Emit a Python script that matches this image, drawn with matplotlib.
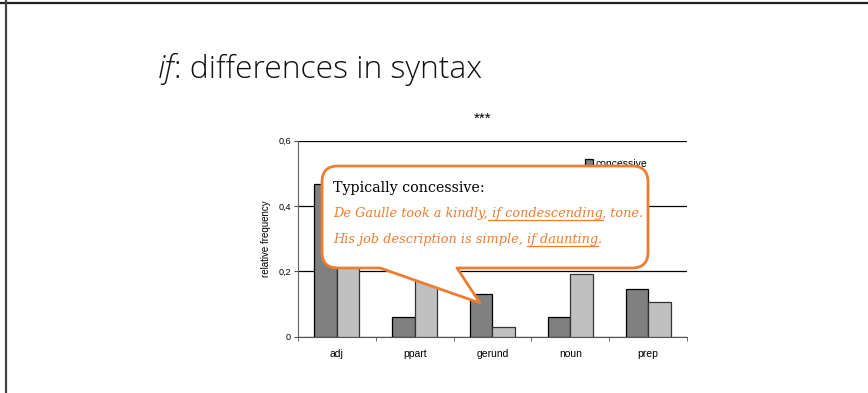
import numpy as np
import matplotlib
matplotlib.use("Agg")
import matplotlib.pyplot as plt
from matplotlib.path import Path
from matplotlib.patches import PathPatch
from matplotlib.lines import Line2D

categories = ["adj", "ppart", "gerund", "noun", "prep"]
concessive = [0.466, 0.059, 0.130, 0.059, 0.147]
conditional = [0.25, 0.19, 0.030, 0.193, 0.106]
series_names = ["concessive", "conditional"]
yticks = [0, 0.2, 0.4, 0.6]
ytick_labels = ["0", "0,2", "0,4", "0,6"]

ORANGE = "#ED7D31"
W, H = 868, 393

fig = plt.figure(figsize=(W / 100, H / 100), dpi=100)
fig.patch.set_facecolor("white")

# slide frame lines (top and left)
fig.add_artist(Line2D([0, 1], [1 - 2.5 / H] * 2, color="#222222", lw=1.6))
fig.add_artist(Line2D([5.5 / W] * 2, [0, 1], color="#444444", lw=1.6))

# chart
ax = fig.add_axes([298 / W, 1 - 336.7 / H, 389 / W, 196 / H])
x = np.arange(len(categories))
bw = 0.29
ax.bar(x - bw / 2, concessive, bw, color="#808080", edgecolor="black",
       lw=0.9, label=series_names[0], zorder=3)
ax.bar(x + bw / 2, conditional, bw, color="#C0C0C0", edgecolor="#333333",
       lw=0.9, label=series_names[1], zorder=3)
ax.set_xlim(-0.5, len(categories) - 0.5)
ax.set_ylim(0, 0.6)
ax.set_yticks(yticks)
ax.set_yticklabels(ytick_labels, family="Liberation Sans", fontsize=6.5)
ax.yaxis.grid(True, color="black", lw=0.9, zorder=0)
ax.set_xticks(x)
ax.set_xticklabels(categories, family="Liberation Sans", fontsize=7.5)
ax.set_xticks(np.arange(len(categories) + 1) - 0.5, minor=True)
ax.tick_params(axis="x", which="major", length=0, pad=9)
ax.tick_params(axis="x", which="minor", length=3, color="#555555")
ax.tick_params(axis="y", length=3, color="#555555", pad=2)
for s in ["top", "right"]:
    ax.spines[s].set_visible(False)
ax.spines["left"].set_color("#666666")
ax.spines["bottom"].set_color("#555555")
ax.set_ylabel("relative frequency", family="Liberation Sans", fontsize=7,
              labelpad=5)
ax.legend(loc="upper left", bbox_to_anchor=(0.725, 0.935), frameon=False,
          prop={"family": "Liberation Sans", "size": 7.5},
          handlelength=0.7, handleheight=0.7, handletextpad=0.3,
          labelspacing=0.3, borderpad=0)

# overlay in pixel coordinates for slide title and callout
ov = fig.add_axes([0, 0, 1, 1], zorder=10)
ov.set_xlim(0, W)
ov.set_ylim(H, 0)
ov.axis("off")
ov.patch.set_alpha(0)

ov.text(483, 119, "***", family="Liberation Sans", fontsize=11,
        ha="center", va="center")

x0, x1, y0, y1, r = 322, 648, 166, 268, 16
tail = [(457, y1), (480, 303), (380, y1)]
verts = [(x0 + r, y0), (x1 - r, y0), (x1, y0), (x1, y0 + r),
         (x1, y1 - r), (x1, y1), (x1 - r, y1)]
codes = [Path.MOVETO, Path.LINETO, Path.CURVE3, Path.CURVE3,
         Path.LINETO, Path.CURVE3, Path.CURVE3]
verts += tail
codes += [Path.LINETO] * 3
verts += [(x0 + r, y1), (x0, y1), (x0, y1 - r), (x0, y0 + r), (x0, y0),
          (x0 + r, y0), (x0 + r, y0)]
codes += [Path.LINETO, Path.CURVE3, Path.CURVE3, Path.LINETO, Path.CURVE3,
          Path.CURVE3, Path.CLOSEPOLY]
ov.add_patch(PathPatch(Path(verts, codes), facecolor="white",
                       edgecolor=ORANGE, lw=2, joinstyle="round"))

fig.canvas.draw()
renderer = fig.canvas.get_renderer()


def put_line(pieces, xs, y, **kw):
    cur = xs
    arts = []
    for txt, under, extra in pieces:
        t = ov.text(cur, y, txt, va="baseline", ha="left", **kw, **extra)
        arts.append(t)
        bb = t.get_window_extent(renderer)
        if under:
            arts += ov.plot([cur, cur + bb.width], [y + 2.5, y + 2.5],
                            color=kw.get("color", "black"), lw=0.9)
        cur += bb.width
    return arts, cur - xs


# slide title, sized to span the same width as in the slide
title_pieces = [("if", False, {"style": "italic"}),
                (": differences in syntax", False, {})]
title_kw = dict(family="Open Sans", weight="light", color="#111111")
arts, wd = put_line(title_pieces, 158, 78, fontsize=20, **title_kw)
for a in arts:
    a.remove()
put_line(title_pieces, 158, 78, fontsize=20 * 325 / wd, **title_kw)

serif = "DejaVu Serif"
put_line([("Typically concessive:", False, {})], 333, 192,
         family=serif, fontsize=10.3, color="black")
put_line([("De Gaulle took a kindly,", False, {}),
          (" if condescending", True, {}),
          (", tone.", False, {})], 333, 217,
         family=serif, fontsize=9.3, style="italic", color=ORANGE)
put_line([("His job description is simple, ", False, {}),
          ("if daunting", True, {}),
          (".", False, {})], 333, 243,
         family=serif, fontsize=9.3, style="italic", color=ORANGE)

fig.savefig("out.png", dpi=100)
